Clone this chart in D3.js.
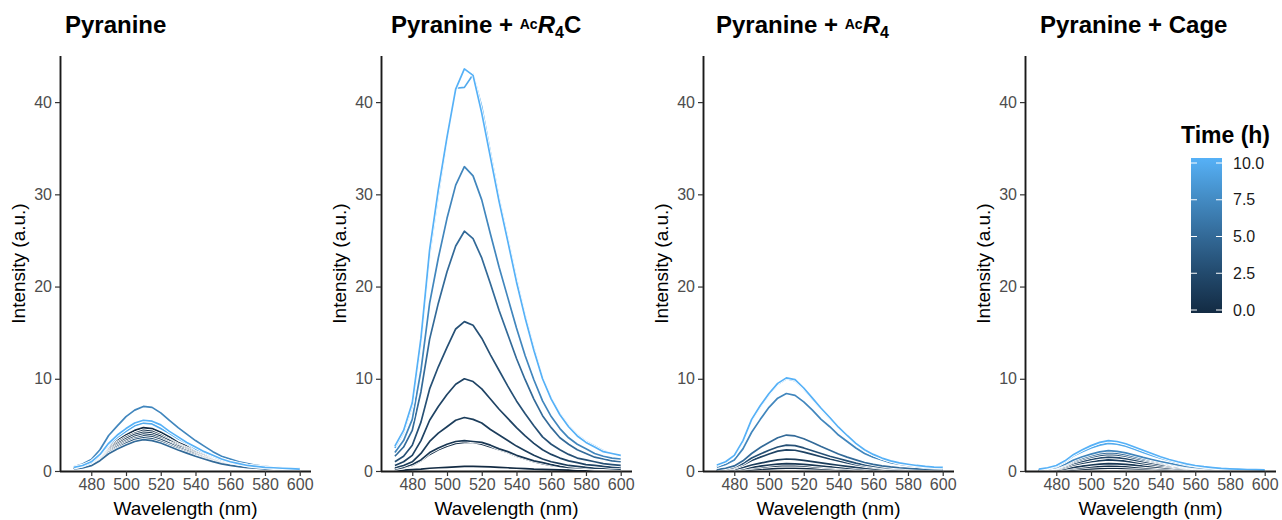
<!DOCTYPE html>
<html>
<head>
<meta charset="utf-8">
<script src="https://cdn.jsdelivr.net/npm/d3@7"></script>
<style>
  body { margin: 0; background: #fff; }
  svg { font-family: "Liberation Sans", Arial, sans-serif; }
</style>
</head>
<body>
<svg width="1282" height="520"></svg>
<script>
// wavelengths (nm) shared by every spectrum
let wavelengths = [470,475,480,485,490,495,500,505,510,515,520,525,530,535,540,545,550,555,560,565,570,575,580,585,590,595,600];

// time (h) of each spectrum, same order in every panel
let times = [0, 0.5, 1, 1.5, 2, 3, 5, 7, 9.5, 10];

let yTicks = [0, 10, 20, 30, 40];
let xTicks = [480, 500, 520, 540, 560, 580, 600];
let legendTicks = [0, 2.5, 5, 7.5, 10];

// Pyranine
let pyranine = [
  [0.3,0.5,0.8,1.55,2.6,3.3,3.9,4.4,4.7,4.6,4.2,3.7,3.1,2.7,2.2,1.8,1.4,1.1,0.85,0.65,0.5,0.4,0.35,0.3,0.25,0.2,0.18],
  [0.3,0.45,0.75,1.45,2.4,3.1,3.65,4.1,4.4,4.3,3.9,3.4,2.9,2.5,2.1,1.7,1.3,1.0,0.8,0.6,0.5,0.4,0.3,0.28,0.24,0.2,0.18],
  [0.28,0.42,0.7,1.4,2.3,2.95,3.5,3.95,4.2,4.1,3.75,3.3,2.8,2.4,2.0,1.6,1.25,0.97,0.76,0.59,0.46,0.37,0.3,0.26,0.22,0.19,0.17],
  [0.27,0.4,0.68,1.3,2.2,2.8,3.3,3.75,4.0,3.9,3.55,3.1,2.7,2.3,1.9,1.5,1.2,0.92,0.72,0.56,0.44,0.35,0.29,0.24,0.2,0.18,0.16],
  [0.26,0.38,0.65,1.25,2.1,2.65,3.15,3.55,3.8,3.7,3.4,3.0,2.55,2.2,1.8,1.45,1.15,0.88,0.69,0.53,0.42,0.33,0.27,0.23,0.19,0.17,0.15],
  [0.25,0.36,0.61,1.2,2.0,2.5,3.0,3.4,3.6,3.5,3.2,2.8,2.4,2.05,1.7,1.37,1.08,0.83,0.65,0.5,0.4,0.31,0.26,0.21,0.18,0.16,0.14],
  [0.24,0.34,0.58,1.12,1.87,2.38,2.82,3.2,3.4,3.3,3.03,2.65,2.28,1.94,1.6,1.3,1.02,0.78,0.61,0.48,0.37,0.3,0.24,0.2,0.17,0.15,0.13],
  [0.45,0.75,1.25,2.3,3.85,4.9,5.9,6.6,7.0,6.9,6.3,5.5,4.7,4.0,3.3,2.7,2.1,1.6,1.3,1.0,0.8,0.6,0.5,0.4,0.35,0.3,0.25],
  [0.35,0.55,0.9,1.7,2.85,3.65,4.3,4.9,5.2,5.1,4.6,4.1,3.5,3.0,2.4,2.0,1.6,1.2,0.95,0.75,0.6,0.45,0.4,0.3,0.25,0.22,0.2],
  [0.4,0.6,1.0,1.8,3.0,3.9,4.6,5.2,5.5,5.4,5.0,4.3,3.7,3.1,2.6,2.1,1.7,1.3,1.0,0.8,0.6,0.5,0.4,0.35,0.3,0.25,0.2]
];

// Pyranine + AcR4C
let withAcR4C = [
  [0.05,0.1,0.15,0.2,0.3,0.35,0.4,0.45,0.5,0.5,0.48,0.45,0.4,0.35,0.3,0.25,0.2,0.18,0.15,0.12,0.1,0.1,0.08,0.07,0.06,0.05,0.05],
  [0.2,0.35,0.6,1.1,1.8,2.3,2.7,3.0,3.1,3.1,2.9,2.6,2.3,2.0,1.6,1.3,1.0,0.8,0.6,0.5,0.4,0.3,0.3,0.2,0.2,0.2,0.2],
  [0.2,0.4,0.7,1.2,2.0,2.5,2.9,3.2,3.3,3.2,3.1,2.8,2.4,2.1,1.7,1.4,1.1,0.9,0.7,0.5,0.4,0.35,0.3,0.25,0.2,0.2,0.2],
  [0.35,0.6,1.0,1.9,3.2,4.1,4.8,5.5,5.8,5.6,5.2,4.5,3.9,3.3,2.7,2.2,1.7,1.3,1.0,0.8,0.6,0.5,0.4,0.3,0.3,0.25,0.2],
  [0.6,1.0,1.7,3.3,5.5,7.0,8.3,9.4,10.0,9.7,8.9,7.8,6.7,5.7,4.7,3.8,3.0,2.3,1.8,1.4,1.1,0.9,0.7,0.6,0.5,0.4,0.4],
  [1.0,1.6,2.8,5.3,8.9,11.3,13.4,15.4,16.2,15.8,14.4,12.6,10.9,9.2,7.6,6.2,4.9,3.7,2.9,2.3,1.8,1.4,1.2,1.0,0.8,0.7,0.6],
  [1.6,2.6,4.4,8.6,14.3,18.2,21.6,24.4,26.0,25.2,23.1,20.3,17.4,14.8,12.2,9.9,7.8,6.0,4.7,3.6,2.9,2.3,1.9,1.5,1.3,1.1,1.0],
  [2.0,3.3,5.6,10.9,18.2,23.1,27.4,31.0,33.0,32.0,29.4,25.7,22.1,18.8,15.5,12.5,9.9,7.6,5.9,4.6,3.6,2.9,2.4,1.9,1.6,1.4,1.3],
  [2.5,4.2,7.1,14.0,23.5,30.0,36.0,41.5,41.6,43.0,39.5,34.5,29.5,25.2,20.8,16.8,13.3,10.1,7.9,6.2,4.9,3.9,3.2,2.7,2.2,1.9,1.7],
  [2.7,4.4,7.4,14.4,24.0,30.5,36.2,41.4,43.6,42.9,38.8,34.0,29.2,24.9,20.5,16.6,13.1,10.0,7.8,6.1,4.8,3.8,3.1,2.6,2.1,1.9,1.7]
];

// Pyranine + AcR4
let withAcR4 = [
  [0.01,0.03,0.05,0.09,0.15,0.2,0.24,0.28,0.3,0.3,0.28,0.25,0.22,0.19,0.16,0.13,0.1,0.08,0.06,0.05,0.04,0.03,0.03,0.02,0.02,0.02,0.02],
  [0.02,0.05,0.09,0.18,0.31,0.4,0.49,0.56,0.6,0.59,0.54,0.47,0.41,0.35,0.29,0.23,0.19,0.15,0.12,0.09,0.07,0.06,0.05,0.04,0.03,0.03,0.03],
  [0.03,0.06,0.11,0.23,0.4,0.53,0.65,0.75,0.8,0.78,0.72,0.63,0.54,0.46,0.38,0.31,0.25,0.19,0.15,0.12,0.09,0.08,0.06,0.05,0.04,0.04,0.03],
  [0.05,0.1,0.18,0.38,0.65,0.85,1.05,1.2,1.3,1.27,1.16,1.02,0.88,0.75,0.62,0.5,0.4,0.31,0.24,0.19,0.15,0.12,0.1,0.08,0.07,0.06,0.05],
  [0.08,0.16,0.3,0.65,1.15,1.5,1.85,2.15,2.3,2.25,2.05,1.8,1.55,1.3,1.1,0.88,0.7,0.54,0.42,0.33,0.26,0.21,0.17,0.14,0.12,0.1,0.09],
  [0.1,0.2,0.4,0.8,1.4,1.85,2.25,2.6,2.8,2.75,2.5,2.2,1.9,1.6,1.35,1.1,0.85,0.66,0.52,0.4,0.32,0.26,0.21,0.17,0.14,0.12,0.11],
  [0.15,0.3,0.55,1.1,1.9,2.55,3.1,3.6,3.9,3.8,3.5,3.1,2.65,2.25,1.85,1.5,1.2,0.92,0.72,0.56,0.44,0.35,0.29,0.24,0.2,0.17,0.16],
  [0.4,0.7,1.2,2.4,4.2,5.6,6.9,7.9,8.4,8.2,7.5,6.6,5.6,4.8,3.9,3.2,2.5,1.9,1.5,1.2,0.9,0.73,0.6,0.5,0.4,0.36,0.33],
  [0.6,1.0,1.65,3.2,5.5,7.0,8.3,9.4,10.0,9.8,8.9,7.8,6.7,5.7,4.7,3.8,3.0,2.3,1.8,1.4,1.1,0.87,0.72,0.59,0.49,0.43,0.39],
  [0.65,1.0,1.7,3.3,5.6,7.1,8.4,9.5,10.1,9.9,9.0,7.9,6.8,5.8,4.75,3.85,3.0,2.3,1.8,1.4,1.1,0.88,0.73,0.6,0.5,0.43,0.4]
];

// Pyranine + Cage
let withCage = [
  [0.01,0.03,0.05,0.09,0.15,0.2,0.24,0.28,0.3,0.3,0.28,0.25,0.22,0.19,0.16,0.13,0.1,0.08,0.06,0.05,0.04,0.03,0.03,0.02,0.02,0.02,0.02],
  [0.03,0.05,0.09,0.17,0.29,0.37,0.45,0.51,0.55,0.53,0.49,0.43,0.37,0.31,0.26,0.21,0.17,0.13,0.1,0.08,0.06,0.05,0.04,0.03,0.03,0.03,0.02],
  [0.03,0.06,0.11,0.23,0.4,0.53,0.65,0.75,0.8,0.78,0.72,0.63,0.54,0.46,0.38,0.31,0.25,0.19,0.15,0.12,0.09,0.08,0.06,0.05,0.04,0.04,0.03],
  [0.06,0.12,0.2,0.4,0.66,0.84,1.0,1.13,1.2,1.16,1.07,0.94,0.8,0.68,0.56,0.46,0.36,0.28,0.22,0.17,0.13,0.1,0.09,0.07,0.06,0.05,0.05],
  [0.08,0.15,0.26,0.5,0.83,1.05,1.25,1.41,1.5,1.46,1.34,1.17,1.0,0.86,0.7,0.57,0.45,0.35,0.27,0.21,0.17,0.13,0.11,0.09,0.07,0.06,0.06],
  [0.1,0.18,0.31,0.6,0.99,1.26,1.5,1.7,1.8,1.75,1.6,1.4,1.2,1.03,0.85,0.68,0.54,0.41,0.32,0.25,0.2,0.16,0.13,0.11,0.09,0.08,0.07],
  [0.11,0.2,0.35,0.66,1.1,1.4,1.66,1.88,2.0,1.94,1.78,1.56,1.34,1.14,0.94,0.76,0.6,0.46,0.36,0.28,0.22,0.17,0.14,0.12,0.1,0.08,0.08],
  [0.12,0.22,0.38,0.73,1.2,1.55,1.83,2.07,2.2,2.13,1.96,1.72,1.47,1.25,1.03,0.84,0.66,0.5,0.4,0.31,0.24,0.19,0.16,0.13,0.11,0.09,0.09],
  [0.18,0.3,0.52,1.0,1.65,2.1,2.5,2.8,3.0,2.9,2.7,2.35,2.0,1.7,1.4,1.15,0.9,0.7,0.55,0.42,0.33,0.26,0.22,0.18,0.15,0.13,0.12],
  [0.2,0.35,0.6,1.1,1.8,2.3,2.75,3.1,3.3,3.2,2.95,2.6,2.25,1.9,1.55,1.25,1.0,0.78,0.6,0.47,0.37,0.29,0.24,0.2,0.16,0.14,0.13]
];

let panels = [pyranine, withAcR4C, withAcR4, withCage];

let svg = d3.select("svg");

let panelLeft = [60, 381, 703, 1025];
let titleLeft = [65, 391, 716, 1040];
let panelW = 251, plotTop = 56, plotBottom = 471;

let color = d3.scaleSequential(d3.interpolateLab("#132B43", "#56B1F7")).domain([0, 10]);

let y = d3.scaleLinear().domain([0, 45]).range([plotBottom, plotTop]);

panels.forEach(function (series, i) {
    let left = panelLeft[i];
    let x = d3.scaleLinear().domain([462, 606.5]).range([left, left + panelW]);
    let g = svg.append("g");

    let line = d3.line()
        .x(function (d, k) { return x(wavelengths[k]); })
        .y(function (d) { return y(d); });

    // each spectrum gets a thin white halo, like the reference
    series.forEach(function (vals, j) {
        g.append("path")
            .attr("d", line(vals))
            .attr("fill", "none")
            .attr("stroke", "#fff")
            .attr("stroke-width", 3.4)
            .attr("stroke-linejoin", "round");
        g.append("path")
            .attr("d", line(vals))
            .attr("fill", "none")
            .attr("stroke", color(times[j]))
            .attr("stroke-width", 1.7)
            .attr("stroke-linejoin", "round");
    });

    // axes
    let yAxis = g.append("g")
        .attr("transform", "translate(" + left + ",0)")
        .call(d3.axisLeft(y).tickValues(yTicks).tickSize(5).tickPadding(3));
    let xAxis = g.append("g")
        .attr("transform", "translate(0," + plotBottom + ")")
        .call(d3.axisBottom(x).tickValues(xTicks).tickSize(5).tickPadding(3));

    [yAxis, xAxis].forEach(function (a) {
        a.select(".domain").attr("stroke", "#1a1a1a").attr("stroke-width", 1.9);
        a.selectAll(".tick line").attr("stroke", "#333").attr("stroke-width", 1.2);
        a.selectAll(".tick text")
            .attr("fill", "#4D4D4D")
            .style("font-size", "16px")
            .style("font-family", "'Liberation Sans', Arial, sans-serif");
    });
    yAxis.select(".domain").attr("d", "M0.5," + plotTop + "V" + (plotBottom + 0.5));
    xAxis.select(".domain").attr("d", "M" + left + ",0.5H" + (left + panelW));

    // axis titles
    g.append("text")
        .attr("x", left + panelW / 2)
        .attr("y", 515)
        .attr("text-anchor", "middle")
        .style("font-size", "19px")
        .text("Wavelength (nm)");
    g.append("text")
        .attr("transform", "translate(" + (left - 35) + "," + ((plotTop + plotBottom) / 2) + ") rotate(-90)")
        .attr("text-anchor", "middle")
        .style("font-size", "19px")
        .text("Intensity (a.u.)");

    // panel title
    let t = g.append("text")
        .attr("x", titleLeft[i])
        .attr("y", 33)
        .style("font-size", "24px")
        .style("font-weight", "bold");
    if (i === 0) {
        t.text("Pyranine");
    } else if (i === 3) {
        t.text("Pyranine + Cage");
    } else {
        t.append("tspan").text("Pyranine + ");
        t.append("tspan").attr("dy", -4).style("font-size", "14px").text("Ac");
        t.append("tspan").attr("dy", 4).style("font-style", "italic").text("R");
        t.append("tspan").attr("dy", 5).style("font-size", "16px").text("4");
        if (i === 1) t.append("tspan").attr("dy", -5).text("C");
    }
});

// colour bar legend
let legY = d3.scaleLinear().domain([0, 10]).range([310, 163]);
let grad = svg.append("defs").append("linearGradient")
    .attr("id", "timeGrad")
    .attr("x1", 0).attr("y1", 1).attr("x2", 0).attr("y2", 0);
grad.selectAll("stop")
    .data(legendTicks)
    .enter()
    .append("stop")
    .attr("offset", function (d) { return d / 10; })
    .attr("stop-color", function (d) { return color(d); });

let leg = svg.append("g");
leg.append("text")
    .attr("x", 1181)
    .attr("y", 143)
    .style("font-size", "23px")
    .style("font-weight", "bold")
    .text("Time (h)");
leg.append("rect")
    .attr("x", 1191)
    .attr("y", legY(10) - 5)
    .attr("width", 31)
    .attr("height", legY(0) - legY(10) + 8)
    .attr("fill", "url(#timeGrad)");
leg.selectAll(".tk")
    .data(legendTicks)
    .enter()
    .append("g")
    .each(function (d) {
        let s = d3.select(this);
        s.append("line").attr("x1", 1191).attr("x2", 1197)
            .attr("y1", legY(d)).attr("y2", legY(d))
            .attr("stroke", "#fff").attr("stroke-width", 1);
        s.append("line").attr("x1", 1216).attr("x2", 1222)
            .attr("y1", legY(d)).attr("y2", legY(d))
            .attr("stroke", "#fff").attr("stroke-width", 1);
        s.append("text")
            .attr("x", 1233)
            .attr("y", legY(d) + 5.5)
            .style("font-size", "16px")
            .attr("fill", "#1a1a1a")
            .text(d3.format(".1f")(d));
    });
</script>
</body>
</html>
